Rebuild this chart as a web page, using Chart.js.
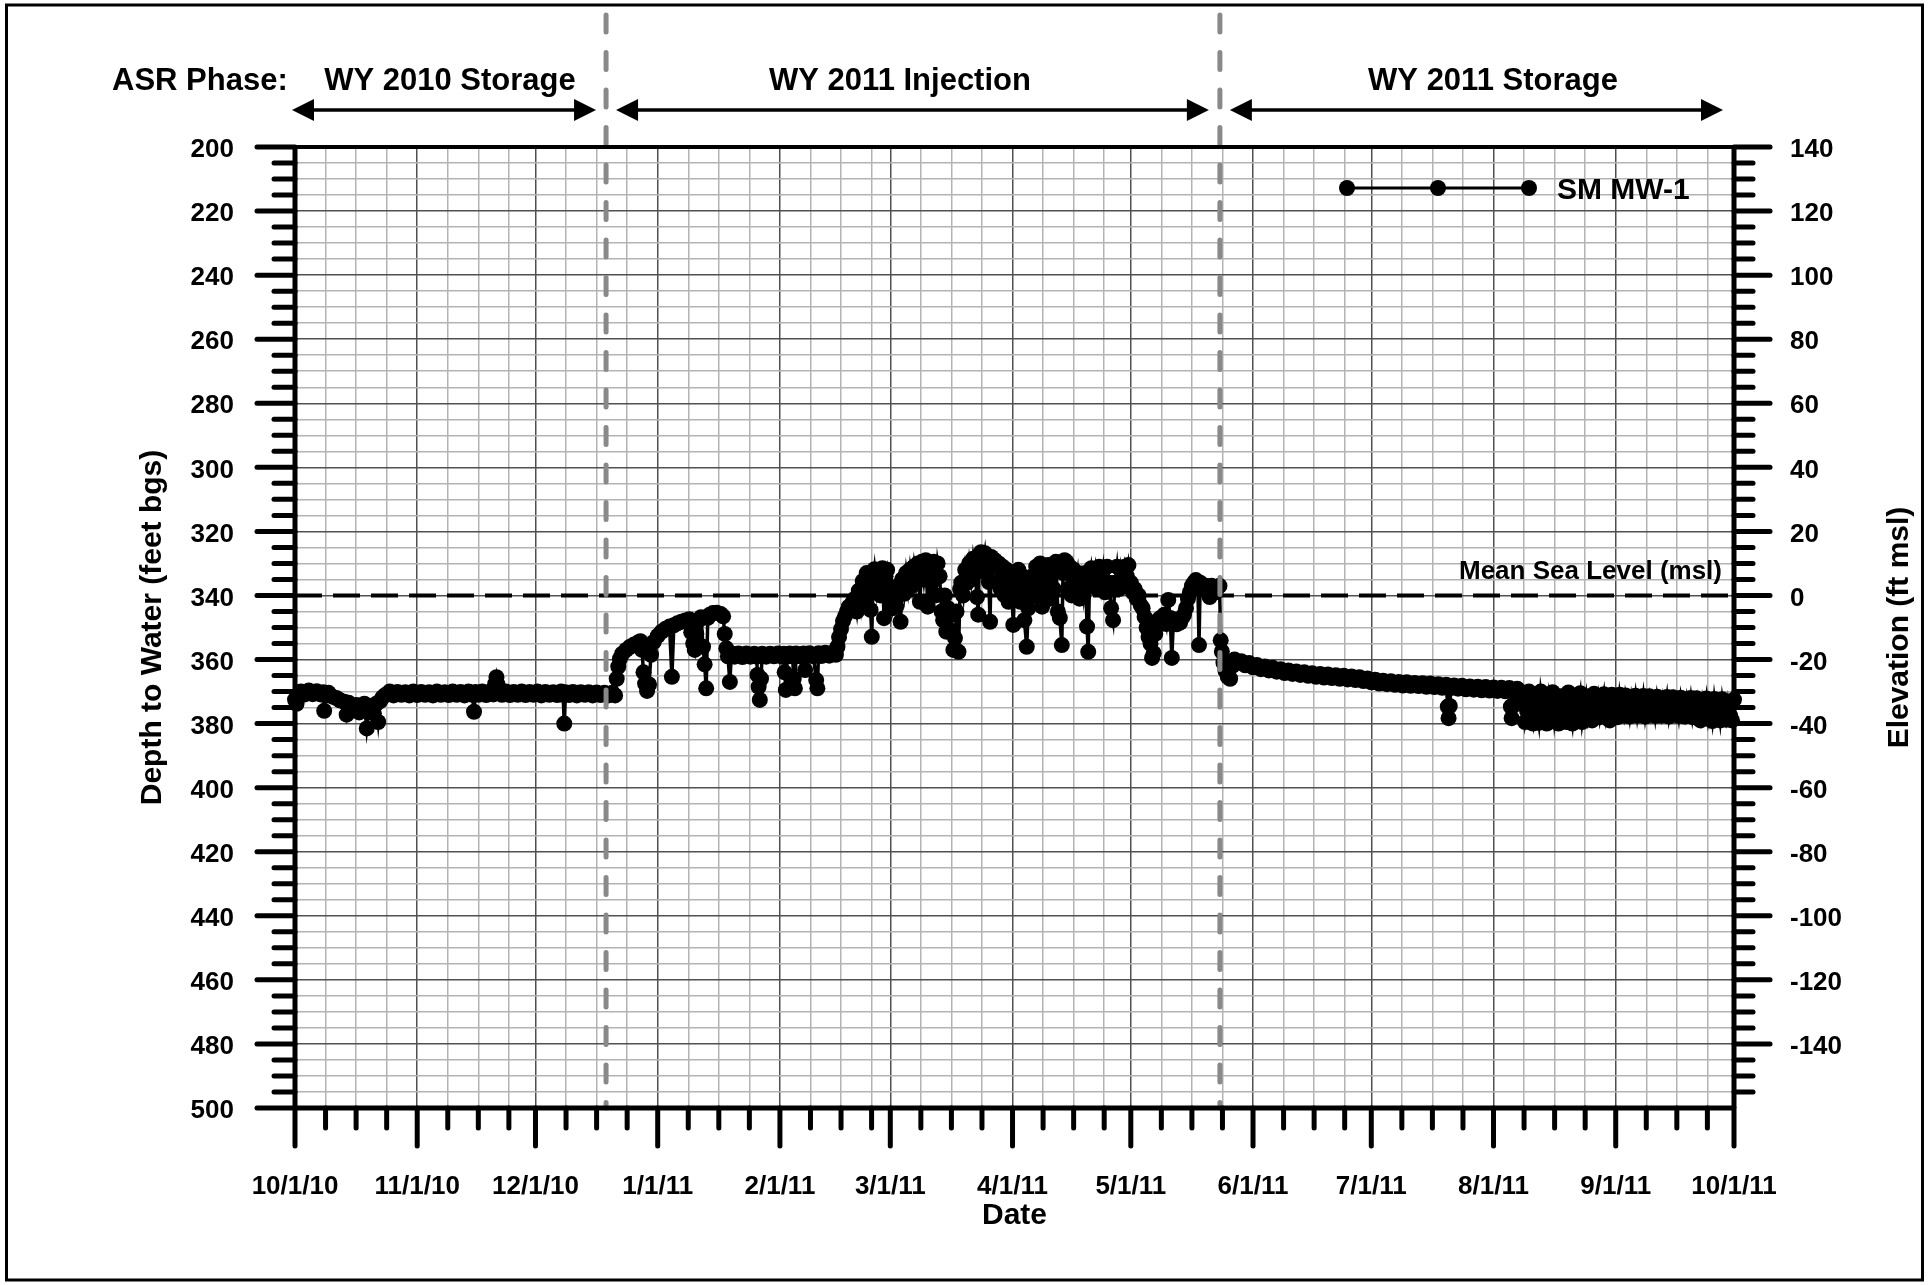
<!DOCTYPE html>
<html>
<head>
<meta charset="utf-8">
<title>SM MW-1 - Depth to Water</title>
<script src="https://cdn.jsdelivr.net/npm/chart.js@4.4.1/dist/chart.umd.min.js"></script>
<style>
  html, body { margin: 0; padding: 0; background: #fff; }
  #wrap { width: 1932px; height: 1285px; }
</style>
</head>
<body>
<div id="wrap"><canvas id="waterLevel" width="1932" height="1285"></canvas></div>
<script>
// =====================================================
// DATA (x = days since 10/1/10, y = depth to water, feet bgs)
// =====================================================
const monthDays = [0, 31, 61, 92, 123, 151, 182, 212, 243, 273, 304, 335, 365];
const monthLabels = ["10/1/10", "11/1/10", "12/1/10", "1/1/11", "2/1/11", "3/1/11", "4/1/11",
                     "5/1/11", "6/1/11", "7/1/11", "8/1/11", "9/1/11", "10/1/11"];

const phaseNames = ["WY 2010 Storage", "WY 2011 Injection", "WY 2011 Storage"];
const phaseBreakDays = [78.9, 234.6];

const meanSeaLevelDepth = 340;

const storage2010 = [
  [0, 372.5], [0.4, 373.8], [0.8, 371.0], [1.5, 370.0], [2.5, 370.9], [3.5, 369.7], [4.5, 370.8],
  [5.5, 369.9], [6.5, 370.9], [7.2, 370.2], [7.4, 376.0], [7.7, 371.2], [8.5, 370.4], [9.5, 371.6],
  [10.5, 372.0], [11.5, 372.8], [12.5, 373.2], [13.1, 377.2], [13.6, 373.5], [14.3, 374.8],
  [15.0, 375.8], [15.6, 374.2], [16.3, 376.5], [17.0, 375.0], [17.6, 373.8], [18.2, 381.5],
  [18.8, 375.5], [19.4, 374.5], [20.0, 376.8], [20.6, 373.8], [21.1, 379.5], [21.6, 373.0],
  [22.2, 371.8], [23, 371.0], [24, 370.0], [25, 371.2], [26, 370.1], [27, 371.0], [28, 370.2],
  [29, 371.2], [30, 370.0], [31, 371.1], [32, 370.1], [33, 371.0], [34, 370.2], [35, 371.2],
  [36, 370.0], [37, 371.0], [38, 370.2], [39, 371.1], [40, 370.0], [41, 371.0], [42, 370.1],
  [43, 371.2], [44, 370.0], [45, 371.0], [45.4, 376.3], [45.8, 370.1], [46.5, 371.0], [47.5, 370.0],
  [48.5, 371.1], [49.5, 370.0], [50.3, 370.9], [50.8, 367.5], [51.1, 365.5], [51.4, 367.8],
  [51.8, 370.0], [52.5, 371.0], [53.5, 370.0], [54.5, 371.1], [55.5, 370.1], [56.5, 371.0],
  [57.5, 370.0], [58.5, 371.1], [59.5, 370.1], [60.5, 371.0], [61.5, 370.0], [62.5, 371.2],
  [63.5, 370.1], [64.5, 371.0], [65.5, 370.2], [66.5, 371.1], [67.5, 370.0], [68.0, 371.0],
  [68.3, 380.0], [68.6, 370.2], [69.5, 371.1], [70.5, 370.1], [71.5, 371.2], [72.5, 370.2],
  [73.5, 371.0], [74.5, 370.2], [75.5, 371.2], [76.5, 370.3], [77.5, 371.1], [78.5, 370.4]
];

const injection2011 = [
  [79.5, 371.2], [80.5, 370.4], [81.2, 371.2], [81.6, 366.0], [82.0, 362.2], [82.4, 359.8],
  [83.0, 358.2], [84.0, 357.0], [85.0, 356.0], [86.0, 355.3], [87.0, 354.7], [87.6, 354.3],
  [88.0, 357.0], [88.4, 364.0], [88.8, 367.5], [89.3, 369.8], [89.8, 367.8], [90.3, 358.5],
  [91.0, 354.5], [92.0, 352.6], [93.0, 351.3], [94.0, 350.4], [95.0, 349.7], [95.6, 365.4],
  [96.1, 349.3], [97.0, 348.7], [98.0, 348.2], [99.0, 347.8], [100.0, 347.4], [100.5, 351.5],
  [101.0, 355.0], [101.4, 357.0], [101.8, 352.0], [102.4, 347.8], [103.0, 346.8], [103.5, 356.0],
  [103.9, 361.5], [104.3, 369.0], [104.7, 347.0], [105.2, 346.0], [106.0, 345.5], [107.0, 345.4],
  [108.0, 345.8], [108.6, 346.5], [109.0, 352.0], [109.4, 356.5], [109.8, 359.0], [110.3, 367.0],
  [110.7, 358.1], [111.5, 359.1], [112.5, 358.1], [113.5, 359.2], [114.5, 358.1], [115.5, 359.1],
  [116.5, 358.2], [117.1, 359.1], [117.3, 364.8], [117.6, 368.5], [117.9, 372.6], [118.2, 366.0],
  [118.5, 358.2], [119.5, 359.1], [120.5, 358.2], [121.5, 359.0], [122.5, 358.1], [123.5, 359.1],
  [124.0, 358.2], [124.2, 364.0], [124.5, 369.5], [124.8, 359.1], [125.5, 358.1], [126.2, 359.0],
  [126.5, 366.0], [126.8, 369.0], [127.1, 358.1], [128.0, 359.0], [129.0, 358.1], [129.4, 363.3],
  [129.7, 359.0], [130.5, 358.0], [131.5, 359.0], [132.2, 366.4], [132.5, 369.0], [132.8, 358.0],
  [133.5, 358.9], [134.5, 357.9], [135.5, 358.8], [136.5, 357.8], [137.2, 358.5], [137.6, 356.0],
  [138.0, 353.0], [138.5, 350.5], [139.0, 348.0], [139.5, 346.5], [140.0, 345.0], [140.5, 343.5],
  [141.0, 344.5], [141.5, 342.0], [142.0, 341.0], [142.5, 345.0], [143.0, 338.5], [143.5, 343.0],
  [144.0, 335.5], [144.5, 341.0], [145.0, 333.0], [145.5, 339.0], [146.0, 344.5], [146.3, 352.9],
  [146.6, 336.0], [147.0, 331.8], [147.5, 338.0], [148.0, 332.5], [148.5, 340.0], [149.0, 331.5],
  [149.4, 347.1], [149.8, 334.0], [150.2, 332.0], [150.6, 337.0], [151.0, 341.0], [151.5, 344.0],
  [152.0, 339.0], [152.5, 343.5], [153.0, 337.0], [153.6, 348.2], [154.0, 335.0], [154.5, 339.5],
  [155.0, 333.0], [155.5, 338.0], [156.0, 332.0], [156.5, 337.0], [157.0, 331.0], [157.5, 336.0],
  [158.0, 330.0], [158.5, 342.0], [159.0, 329.5], [159.5, 335.0], [160.0, 329.0], [160.5, 343.5],
  [161.0, 330.0], [161.5, 336.0], [162.0, 329.5], [162.5, 340.0], [163.0, 330.0], [163.5, 334.0],
  [164.0, 345.0], [164.4, 347.7], [164.8, 340.0], [165.2, 351.3], [165.6, 344.0], [166.0, 350.8],
  [166.5, 346.0], [167.0, 357.0], [167.4, 353.3], [167.8, 345.0], [168.3, 357.6], [168.7, 338.0],
  [169.0, 336.0], [169.5, 340.0], [170.0, 332.0], [170.5, 336.0], [171.0, 330.0], [171.5, 335.0],
  [172.0, 328.5], [172.5, 333.0], [173.0, 340.5], [173.3, 346.0], [173.6, 327.5], [174.0, 326.5],
  [174.5, 331.0], [175.0, 326.8], [175.5, 333.0], [176.0, 335.8], [176.3, 348.2], [176.6, 328.0],
  [177.0, 331.0], [177.5, 329.0], [178.0, 336.0], [178.5, 330.0], [179.0, 338.0], [179.5, 331.0],
  [180.0, 340.0], [180.5, 332.0], [181.0, 342.0], [181.5, 333.0], [181.9, 341.0], [182.2, 349.2],
  [182.6, 333.0], [183.0, 340.0], [183.5, 332.0], [184.0, 342.0], [184.5, 334.0], [185.0, 347.7],
  [185.6, 356.0], [186.0, 344.0], [186.5, 338.0], [187.0, 334.0], [187.5, 340.0], [188.0, 331.0],
  [188.5, 337.0], [189.0, 330.0], [189.5, 343.5], [190.0, 331.0], [190.5, 337.0], [191.0, 330.5],
  [191.5, 341.0], [192.0, 331.0], [192.5, 338.0], [193.0, 329.5], [193.5, 345.0], [194.0, 347.0],
  [194.5, 355.5], [194.8, 333.0], [195.2, 329.0], [195.7, 329.5], [196.0, 338.0], [196.5, 331.0],
  [197.0, 340.0], [197.5, 332.0], [198.0, 337.0], [198.5, 333.0], [199.0, 341.0], [199.5, 335.0],
  [200.0, 340.0], [200.5, 333.0], [200.9, 349.7], [201.2, 357.6], [201.5, 336.0], [202.0, 331.5],
  [202.5, 336.0], [203.0, 332.0], [203.5, 338.0], [204.0, 331.0], [204.5, 337.0], [205.0, 332.0],
  [205.5, 339.0], [206.0, 331.0], [206.5, 336.0], [207.0, 344.0], [207.5, 347.7], [208.0, 336.0],
  [208.5, 331.0], [209.0, 338.0], [209.5, 332.0], [210.0, 336.0], [210.5, 331.0], [211.0, 334.0],
  [211.4, 330.5], [212.0, 336.0], [212.5, 339.0], [213.0, 338.0], [213.5, 341.0], [214.0, 340.0],
  [214.5, 343.0], [215.0, 344.0], [215.5, 346.7], [216.0, 350.0], [216.5, 353.0], [217.0, 355.0],
  [217.4, 359.5], [217.8, 358.0], [218.2, 352.0], [218.6, 348.0], [219.0, 349.0], [219.5, 347.0],
  [220.0, 348.5], [220.5, 346.0], [221.0, 348.9], [221.5, 341.4], [222.0, 347.0], [222.4, 359.5],
  [222.8, 348.0], [223.2, 347.5], [223.6, 349.0], [224.0, 347.5], [224.5, 348.5], [225.0, 347.0],
  [225.5, 346.0], [226.0, 344.0], [226.5, 341.0], [227.0, 339.0], [227.5, 337.0], [228.0, 336.0],
  [228.5, 335.2], [229.0, 336.0], [229.3, 355.5], [229.6, 336.0], [230.0, 337.0], [230.5, 338.0],
  [231.0, 337.0], [231.5, 339.0], [232.0, 340.5], [232.5, 337.0], [233.0, 338.0], [233.5, 339.0],
  [234.0, 337.3], [234.5, 337.0]
];

const storage2011 = [
  [234.8, 354.0], [235.1, 357.5], [235.5, 361.0], [236.0, 363.5], [236.6, 365.4], [237.2, 366.0],
  [237.8, 362.0], [238.3, 360.0], [239, 361.0], [240, 360.5], [241, 361.8], [242, 361.1],
  [243, 362.4], [244, 361.7], [245, 363.0], [246, 362.2], [247, 363.4], [248, 362.6], [249, 363.8],
  [250, 363.0], [251, 364.2], [252, 363.4], [253, 364.5], [254, 363.7], [255, 364.8], [256, 364.0],
  [257, 365.1], [258, 364.3], [259, 365.4], [260, 364.5], [261, 365.6], [262, 364.7], [263, 365.8],
  [264, 364.9], [265, 366.0], [266, 365.1], [267, 366.2], [268, 365.3], [269, 366.4], [270, 365.5],
  [271, 366.7], [272, 365.9], [273, 367.1], [274, 366.3], [275, 367.5], [276, 366.6], [277, 367.7],
  [278, 366.8], [279, 367.9], [280, 367.0], [281, 368.1], [282, 367.1], [283, 368.2], [284, 367.3],
  [285, 368.3], [286, 367.4], [287, 368.5], [288, 367.5], [289, 368.6], [290, 367.7], [291, 368.8],
  [292, 367.9], [292.4, 374.7], [292.6, 378.3], [292.9, 374.5], [293.2, 368.9], [294, 368.1],
  [295, 369.1], [296, 368.2], [297, 369.3], [298, 368.4], [299, 369.4], [300, 368.5], [301, 369.6],
  [302, 368.6], [303, 369.7], [304, 368.7], [305, 369.8], [306, 368.8], [307, 369.9], [308, 368.9],
  [308.4, 374.7], [308.6, 378.3], [308.9, 374.5], [309.2, 370.0], [310, 369.1], [311, 370.1],
  [311.5, 373.0], [312.0, 379.5], [312.5, 376.0], [313.0, 370.0], [313.5, 377.5], [314.0, 380.0],
  [314.5, 372.5], [315.0, 375.5], [315.5, 379.8], [316.0, 370.0], [316.5, 374.0], [317.0, 378.5],
  [317.5, 380.0], [318.0, 372.0], [318.5, 376.5], [319.0, 370.2], [319.5, 379.0], [320.0, 374.5],
  [320.5, 380.0], [321.0, 371.5], [321.5, 377.0], [322.0, 373.5], [322.5, 379.5], [323.0, 370.3],
  [323.5, 376.0], [324.0, 380.0], [324.5, 372.5], [325.0, 378.0], [325.5, 374.0], [326.0, 370.5],
  [326.5, 379.5], [327.0, 375.5], [327.5, 371.5], [328.0, 377.5], [328.5, 373.0], [329.0, 379.0],
  [329.5, 370.7], [330.0, 376.0], [330.5, 372.0], [331.0, 378.0], [331.5, 374.5], [332.0, 370.8],
  [332.5, 377.5], [333.0, 373.5], [333.5, 379.0], [334.0, 371.0], [334.5, 376.0], [335.0, 372.5],
  [335.5, 378.0], [336.0, 371.0], [336.5, 375.0], [337.0, 377.5], [337.5, 371.2], [338.0, 374.0],
  [338.5, 377.8], [339.0, 372.0], [339.5, 375.5], [340.0, 371.3], [340.5, 377.5], [341.0, 373.5],
  [341.5, 376.0], [342.0, 371.4], [342.5, 377.8], [343.0, 374.0], [343.5, 371.5], [344.0, 376.5],
  [344.5, 373.0], [345.0, 377.6], [345.5, 371.6], [346.0, 375.0], [346.5, 377.5], [347.0, 372.5],
  [347.5, 376.0], [348.0, 371.7], [348.5, 377.8], [349.0, 374.0], [349.5, 371.8], [350.0, 376.5],
  [350.5, 373.0], [351.0, 377.6], [351.5, 371.9], [352.0, 375.5], [352.5, 377.8], [353.0, 372.5],
  [353.5, 376.0], [354.0, 372.0], [354.5, 378.0], [355.0, 374.5], [355.5, 372.1], [356.0, 377.0],
  [356.5, 379.0], [357.0, 373.0], [357.5, 376.5], [358.0, 372.2], [358.5, 378.5], [359.0, 375.0],
  [359.5, 379.2], [360.0, 372.3], [360.5, 377.0], [361.0, 374.0], [361.5, 379.0], [362.0, 372.4],
  [362.5, 376.5], [363.0, 378.8], [363.5, 373.5], [364.0, 377.5], [364.5, 379.0], [365.0, 372.5],
  [365.3, 376.0]
];

// =====================================================
// SETTINGS
// =====================================================
const FONT = '"Liberation Sans", Arial, Helvetica, sans-serif';
const GRID_MAJOR = "#505050";
const GRID_MINOR = "#b3b3b3";
const MARKER_RADIUS = 8;

// minor date ticks: three per month, 7.75 days apart
const xTickValues = [];
monthDays.forEach((d, i) => {
  xTickValues.push(d);
  if (i < monthDays.length - 1) {
    for (let k = 1; k <= 3; k++) xTickValues.push(d + k * 7.75);
  }
});

const readings = [...storage2010, ...injection2011, ...storage2011].map(p => ({ x: p[0], y: p[1] }));

function isMonth(v) {
  return monthDays.indexOf(v) >= 0;
}

function strokeLine(ctx, x1, y1, x2, y2) {
  ctx.beginPath();
  ctx.moveTo(x1, y1);
  ctx.lineTo(x2, y2);
  ctx.stroke();
}

function boldText(ctx, str, x, y, size, align) {
  ctx.font = `bold ${size}px ${FONT}`;
  ctx.textAlign = align;
  ctx.textBaseline = "alphabetic";
  ctx.fillStyle = "#000";
  ctx.fillText(str, x, y);
}

function doubleArrow(ctx, x1, x2, y) {
  const head = 22, half = 11;
  ctx.lineWidth = 3.5;
  ctx.lineCap = "butt";
  strokeLine(ctx, x1 + head - 2, y, x2 - head + 2, y);
  ctx.beginPath();
  ctx.moveTo(x1, y);
  ctx.lineTo(x1 + head, y - half);
  ctx.lineTo(x1 + head, y + half);
  ctx.closePath();
  ctx.fill();
  ctx.beginPath();
  ctx.moveTo(x2, y);
  ctx.lineTo(x2 - head, y - half);
  ctx.lineTo(x2 - head, y + half);
  ctx.closePath();
  ctx.fill();
}

// =====================================================
// EXTRA DRAWING: axes, tick marks, phases, legend, titles
// =====================================================
const extraDrawing = {
  id: "extraDrawing",
  beforeDraw(chart) {
    const ctx = chart.ctx;
    ctx.save();
    ctx.fillStyle = "#fff";
    ctx.fillRect(0, 0, chart.width, chart.height);
    ctx.restore();
  },
  afterDatasetsDraw(chart) {
    // phase boundaries (gray dashed)
    const ctx = chart.ctx;
    const xs = chart.scales.x;
    const area = chart.chartArea;
    ctx.save();
    ctx.strokeStyle = "#898989";
    ctx.lineWidth = 5;
    ctx.lineCap = "round";
    ctx.setLineDash([17, 20.5]);
    phaseBreakDays.forEach(d => {
      const px = xs.getPixelForValue(d);
      strokeLine(ctx, px, 15, px, area.bottom);
    });
    ctx.restore();
  },
  afterDraw(chart) {
    const ctx = chart.ctx;
    const xs = chart.scales.x, ys = chart.scales.y, y2 = chart.scales.y2;
    const a = chart.chartArea;
    ctx.save();
    ctx.strokeStyle = "#000";
    ctx.fillStyle = "#000";

    // axis frame
    ctx.lineCap = "butt";
    ctx.lineWidth = 4;
    strokeLine(ctx, a.left, a.top, a.right, a.top);
    ctx.lineWidth = 5;
    strokeLine(ctx, a.left, a.top - 2, a.left, a.bottom);
    strokeLine(ctx, a.right, a.top - 2, a.right, a.bottom);
    strokeLine(ctx, a.left - 2, a.bottom, a.right + 2, a.bottom);

    // tick marks
    ctx.lineCap = "round";
    ctx.lineWidth = 5;
    ys.ticks.forEach(t => {
      const py = ys.getPixelForValue(t.value);
      const len = t.value % 20 === 0 ? 38 : 21;
      strokeLine(ctx, a.left - len, py, a.left, py);
    });
    y2.ticks.forEach(t => {
      if (t.value === -160) return;
      const py = y2.getPixelForValue(t.value);
      const len = t.value % 20 === 0 ? 36 : 19;
      strokeLine(ctx, a.right, py, a.right + len, py);
    });
    xs.ticks.forEach(t => {
      const px = xs.getPixelForValue(t.value);
      const len = isMonth(t.value) ? 38 : 20;
      strokeLine(ctx, px, a.bottom, px, a.bottom + len);
    });

    // MSL label
    boldText(ctx, "Mean Sea Level (msl)", 1722, ys.getPixelForValue(meanSeaLevelDepth) - 16, 26, "right");

    // ASR phases
    boldText(ctx, "ASR Phase:", 112, 90, 31, "left");
    const left = xs.getPixelForValue(0);
    const right = xs.getPixelForValue(365);
    const b1 = xs.getPixelForValue(phaseBreakDays[0]);
    const b2 = xs.getPixelForValue(phaseBreakDays[1]);
    doubleArrow(ctx, left - 3, b1 - 10, 110);
    doubleArrow(ctx, b1 + 10, b2 - 11, 110);
    doubleArrow(ctx, b2 + 10, right - 11, 110);
    boldText(ctx, phaseNames[0], 450, 90, 31, "center");
    boldText(ctx, phaseNames[1], 900, 90, 31, "center");
    boldText(ctx, phaseNames[2], 1493, 90, 31, "center");

    // legend
    ctx.lineCap = "butt";
    ctx.lineWidth = 3;
    strokeLine(ctx, 1347, 188, 1529, 188);
    [1347, 1438, 1529].forEach(px => {
      ctx.beginPath();
      ctx.arc(px, 188, MARKER_RADIUS, 0, Math.PI * 2);
      ctx.fill();
    });
    boldText(ctx, chart.data.datasets[0].label, 1557, 199, 30, "left");

    // axis titles
    boldText(ctx, "Date", (a.left + a.right) / 2, 1224, 30, "center");
    ctx.save();
    ctx.translate(161, (a.top + a.bottom) / 2);
    ctx.rotate(-Math.PI / 2);
    boldText(ctx, "Depth to Water (feet bgs)", 0, 0, 30, "center");
    ctx.restore();
    ctx.save();
    ctx.translate(1908, (a.top + a.bottom) / 2);
    ctx.rotate(-Math.PI / 2);
    boldText(ctx, "Elevation (ft msl)", 0, 0, 30, "center");
    ctx.restore();

    // outer border
    ctx.lineWidth = 3;
    ctx.strokeRect(6.5, 5, 1916, 1275);
    ctx.restore();
  }
};

// =====================================================
// CHART
// =====================================================
const tickFont = { family: FONT, size: 26, weight: "bold" };

new Chart(document.getElementById("waterLevel"), {
  type: "line",
  data: {
    datasets: [
      {
        label: "SM MW-1",
        data: readings,
        borderColor: "#000",
        borderWidth: 3.5,
        backgroundColor: "#000",
        pointRadius: MARKER_RADIUS,
        pointBackgroundColor: "#000",
        pointBorderColor: "#000",
        pointBorderWidth: 0,
        tension: 0,
        clip: false,
        xAxisID: "x",
        yAxisID: "y"
      },
      {
        label: "Mean Sea Level",
        data: [{ x: 0, y: meanSeaLevelDepth }, { x: 365, y: meanSeaLevelDepth }],
        borderColor: "#000",
        borderWidth: 4,
        borderDash: [27, 11],
        pointRadius: 0,
        xAxisID: "x",
        yAxisID: "y"
      }
    ]
  },
  options: {
    responsive: false,
    devicePixelRatio: 1,
    animation: false,
    layout: { padding: { top: 147, left: 0, right: 0, bottom: 0 } },
    plugins: {
      legend: { display: false },
      tooltip: { enabled: false }
    },
    scales: {
      x: {
        type: "linear",
        min: 0,
        max: 365,
        afterBuildTicks: scale => {
          scale.ticks = xTickValues.map(v => ({ value: v }));
        },
        afterFit: scale => { scale.height = 177; },
        border: { display: false },
        grid: {
          drawTicks: false,
          color: c => (isMonth(c.tick.value) ? GRID_MAJOR : GRID_MINOR),
          lineWidth: 1.5
        },
        ticks: {
          autoSkip: false,
          maxRotation: 0,
          minRotation: 0,
          padding: 63,
          color: "#000",
          font: tickFont,
          callback: v => {
            const i = monthDays.indexOf(v);
            return i >= 0 ? monthLabels[i] : "";
          }
        }
      },
      y: {
        position: "left",
        reverse: true,
        min: 200,
        max: 500,
        afterFit: scale => { scale.width = 295; },
        border: { display: false },
        grid: {
          drawTicks: false,
          color: c => (c.tick.value % 20 === 0 ? GRID_MAJOR : GRID_MINOR),
          lineWidth: 1.5
        },
        ticks: {
          stepSize: 5,
          autoSkip: false,
          padding: 61,
          labelOffset: 3,
          color: "#000",
          font: tickFont,
          callback: v => (v % 20 === 0 ? String(v) : "")
        }
      },
      y2: {
        position: "right",
        min: -160,
        max: 140,
        afterFit: scale => { scale.width = 198; },
        border: { display: false },
        grid: { drawOnChartArea: false, drawTicks: false },
        ticks: {
          stepSize: 5,
          autoSkip: false,
          padding: 56,
          labelOffset: 3,
          color: "#000",
          font: tickFont,
          callback: v => (v % 20 === 0 && v !== -160 ? String(v) : "")
        }
      }
    }
  },
  plugins: [extraDrawing]
});
</script>
</body>
</html>
